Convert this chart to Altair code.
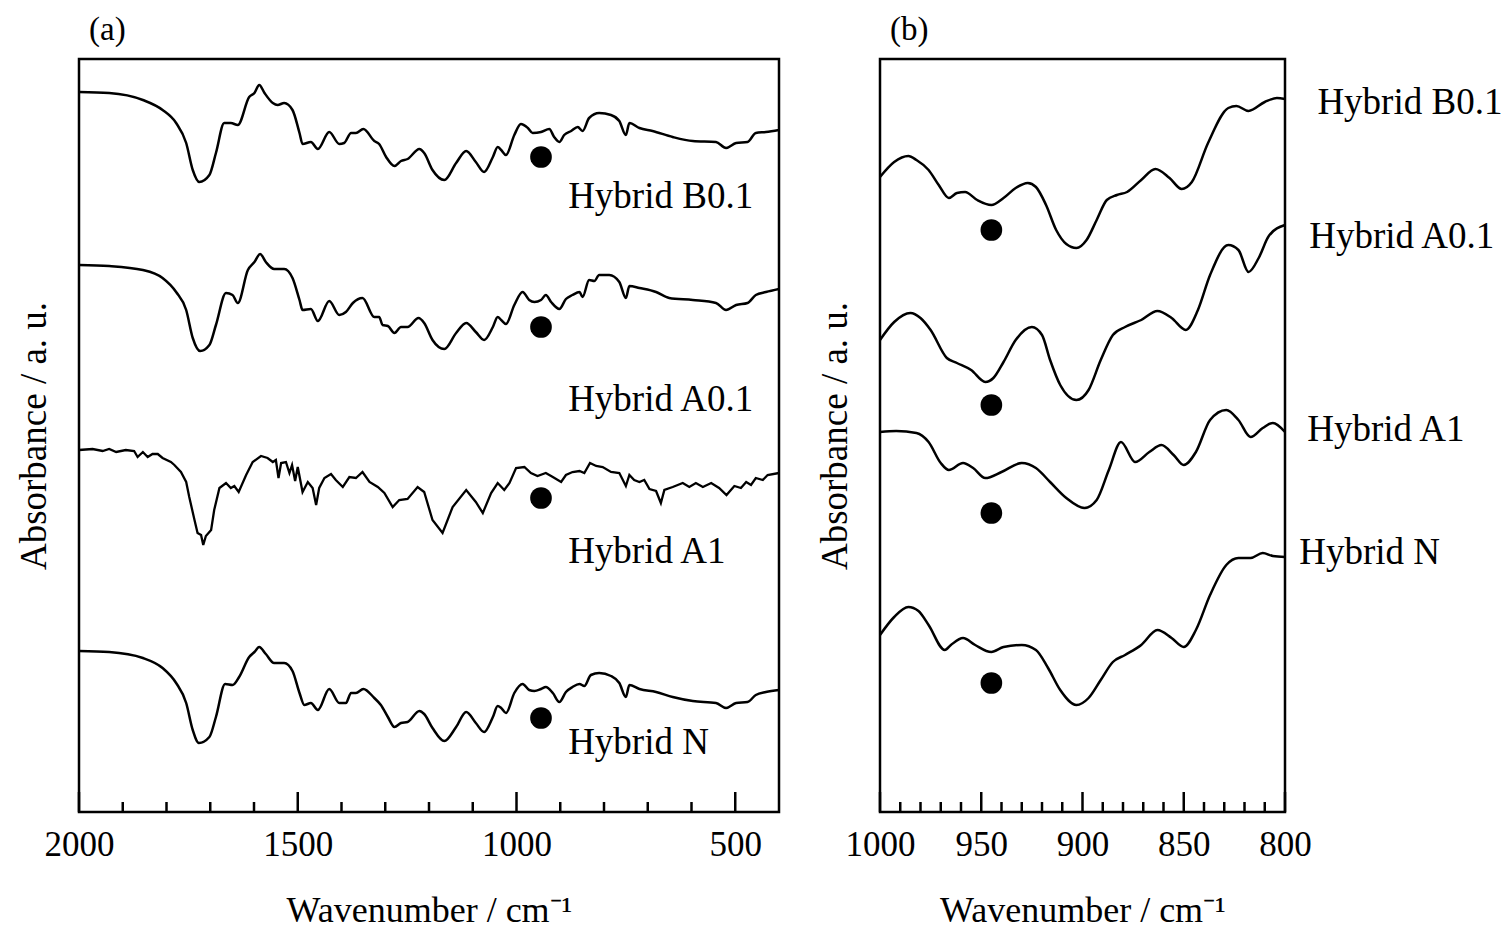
import altair as alt
import pandas as pd

FONT = "Liberation Serif"
Y_MAX = 753  # arbitrary absorbance units (no scale shown)

# ---------------- Panel (a): 2000-400 cm-1 ----------------
a_b01_wn = [2000,1931,1854,1809,1778,1755,1740,1725,1702,1687,
            1668,1653,1637,1611,1599,1588,1576,1557,1546,1531,
            1512,1496,1489,1470,1454,1428,1405,1394,1378,1367,
            1350,1325,1314,1298,1279,1264,1249,1222,1211,1192,
            1165,1138,1115,1093,1074,1054,1043,1035,1024,1005,
            990,974,963,944,925,914,902,891,875,860,
            849,834,811,784,765,750,742,719,689,643,
            597,544,521,498,472,453,430,400]
a_b01_au = [720,719,712,702,689,669,642,630,637,659,
            689,689,687,715,719,727,719,709,707,709,
            702,679,668,670,663,680,668,669,679,679,
            683,671,668,655,646,651,653,663,659,642,
            632,649,661,650,640,655,665,662,657,677,
            688,684,679,680,683,675,670,677,681,685,
            681,694,699,697,691,677,689,684,681,675,
            671,670,664,669,670,679,680,682]

a_a01_wn = [2000,1931,1854,1809,1778,1755,1740,1723,1702,1687,
            1664,1649,1637,1614,1599,1586,1573,1554,1531,1512,
            1496,1489,1470,1454,1428,1405,1390,1374,1352,1325,
            1314,1306,1294,1279,1264,1249,1224,1211,1192,1165,
            1138,1115,1093,1074,1054,1043,1035,1024,1005,986,
            971,959,944,933,921,902,887,872,856,849,
            834,822,811,788,765,750,742,719,681,651,
            597,544,521,498,472,453,430,400]
a_a01_au = [547,546,542,534,520,502,474,461,467,487,
            519,517,509,542,550,558,550,543,543,534,
            512,502,503,491,511,497,500,509,514,495,
            495,487,486,479,485,485,494,489,472,463,
            479,489,480,472,485,495,492,488,507,520,
            512,510,512,517,510,503,513,517,520,515,
            532,531,537,537,530,514,526,524,520,514,
            512,509,502,507,509,517,520,523]

a_a1_wn = [2000,1969,1946,1931,1915,1893,1874,1866,1854,1843,
           1832,1820,1809,1790,1782,1767,1755,1748,1736,1729,
           1721,1716,1710,1698,1691,1679,1664,1653,1645,1635,
           1618,1603,1584,1569,1557,1550,1544,1538,1527,1519,
           1513,1506,1500,1489,1477,1466,1458,1451,1439,1424,
           1413,1397,1382,1367,1352,1336,1317,1302,1283,1268,
           1249,1226,1211,1192,1169,1146,1115,1093,1077,1058,
           1043,1028,1016,1001,982,967,952,933,917,898,
           887,872,856,845,832,818,803,784,765,750,
           742,731,719,708,696,681,670,662,643,620,
           605,590,574,555,537,520,502,487,475,464,
           453,437,426,400]
a_a1_au = [362,363,361,363,360,362,361,355,360,355,
           358,358,354,350,347,340,330,315,292,279,
           277,267,276,282,302,324,329,324,326,320,
           337,350,356,354,350,352,334,349,350,339,
           347,331,345,320,330,324,307,324,334,338,
           332,325,335,334,340,330,325,319,305,312,
           313,325,320,292,279,305,322,310,299,319,
           329,322,329,344,345,339,336,339,335,330,
           337,340,341,339,349,346,345,340,339,326,
           337,332,330,332,323,321,309,322,325,329,
           325,329,325,329,324,317,326,324,330,327,
           334,332,337,339]

a_n_wn = [2000,1931,1854,1809,1778,1755,1740,1726,1702,1687,
          1666,1649,1634,1611,1599,1588,1573,1554,1531,1512,
          1496,1485,1470,1454,1428,1405,1390,1378,1367,1350,
          1325,1310,1294,1279,1264,1249,1222,1211,1192,1165,
          1138,1115,1093,1074,1054,1043,1035,1024,1005,986,
          971,959,944,933,917,902,887,872,856,845,
          830,811,784,765,750,742,719,681,643,597,
          544,521,498,472,453,430,400]
a_n_au = [161,160,154,144,129,109,82,69,75,95,
          128,127,135,155,160,165,158,149,149,141,
          119,107,109,102,123,109,109,119,119,123,
          114,107,95,85,89,90,101,98,84,71,
          85,100,89,80,95,106,104,99,119,128,
          122,121,123,125,119,110,120,125,128,126,
          137,139,136,129,115,127,123,120,115,111,
          109,104,109,110,117,120,122]

a_dot_wn = [944, 944, 944, 944]
a_dot_au = [655, 485, 314, 94]
a_lab_text = ["Hybrid B0.1", "Hybrid A0.1", "Hybrid A1", "Hybrid N"]
a_lab_wn = [882, 882, 882, 882]
a_lab_au = [615, 412, 260, 69]
a_major = [2000, 1500, 1000, 500]
a_minor = [1900, 1800, 1700, 1600, 1400, 1300, 1200, 1100, 900, 800, 700, 600]

# ---------------- Panel (b): 1000-800 cm-1 ----------------
b_b01_wn = [1000,993,986,982,976,971,966,962,958,952,
            945,939,933,927,923,918,913,908,903,898,
            893,888,883,878,871,864,857,851,846,838,
            828,824,818,810,804,800]
b_b01_au = [635,650,656,652,642,627,614,619,620,612,
            607,614,624,629,625,607,582,568,564,572,
            592,612,617,620,632,643,634,623,630,669,
            704,706,701,710,714,713]

b_a01_wn = [1000,993,985,980,975,967,962,955,948,944,
            939,933,925,920,916,911,903,897,891,885,
            879,871,863,856,849,843,837,828,823,818,
            813,808,800]
b_a01_au = [472,490,499,494,482,454,449,442,430,434,
            450,472,485,477,452,427,412,422,452,477,
            485,492,501,494,482,502,537,567,562,540,
            554,576,587]

b_a1_wn = [1000,992,982,976,970,966,959,954,948,940,
           930,923,916,908,899,893,887,881,874,867,
           861,855,850,844,837,829,823,817,811,806,
           800]
b_a1_au = [380,381,379,370,349,342,349,344,334,340,
           349,344,330,314,304,312,342,370,350,360,
           367,357,347,360,392,402,392,375,384,389,
           380]

b_n_wn = [1000,993,986,981,976,968,965,959,953,945,
          939,930,923,917,911,903,897,891,885,879,
          871,863,856,850,844,837,829,823,817,811,
          806,800]
b_n_au = [177,195,205,201,187,162,167,174,167,160,
          165,167,162,144,122,107,114,132,150,157,
          167,182,174,165,182,217,247,254,254,259,
          256,255]

b_dot_wn = [945, 945, 945, 945]
b_dot_au = [582, 407, 299, 129]
b_lab_text = ["Hybrid B0.1", "Hybrid A0.1", "Hybrid A1", "Hybrid N"]
b_lab_wn = [784, 788, 789, 793]
b_lab_au = [709, 575, 382, 259]
b_major = [1000, 950, 900, 850, 800]
b_minor = [990, 980, 970, 960, 940, 930, 920, 910, 890, 880, 870, 860,
           840, 830, 820, 810]


def series(wn, au, name):
    return pd.DataFrame({"wn": wn, "au": au, "series": name})


def panel(smooth, rough, dots, labels, domain, major, minor, width, height, title):
    xs = alt.Scale(domain=domain, nice=False, zero=False)
    ys = alt.Scale(domain=[0, Y_MAX], nice=False, zero=False)
    xax = alt.Axis(values=major, title="Wavenumber / cm⁻¹", format="d",
                   ticks=False, tickSize=0, domain=False, grid=False,
                   labelFlush=False, labelOverlap=False,
                   labelFontSize=35, titleFontSize=36,
                   labelPadding=15, titlePadding=31)
    yax = alt.Axis(title="Absorbance / a. u.", labels=False, ticks=False,
                   domain=False, grid=False, titlePadding=26, titleFontSize=37)
    X = alt.X("wn:Q", scale=xs, axis=xax)
    Y = alt.Y("au:Q", scale=ys, axis=yax)

    layers = []
    layers.append(alt.Chart(smooth).mark_line(color="black", strokeWidth=2.5,
                                              interpolate="monotone")
                  .encode(x=X, y=Y, detail="series:N"))
    if rough is not None:
        layers.append(alt.Chart(rough).mark_line(color="black", strokeWidth=2.3,
                                                 interpolate="linear")
                      .encode(x=X, y=Y, detail="series:N"))
    layers.append(alt.Chart(dots).mark_circle(size=470, color="black", opacity=1)
                  .encode(x=X, y=Y))
    layers.append(alt.Chart(labels).mark_text(align="left", baseline="middle",
                                               font=FONT, fontSize=37, color="black")
                  .encode(x=X, y=Y, text="label:N"))
    layers.append(alt.Chart(pd.DataFrame({"wn": major})).mark_rule(color="black", strokeWidth=2.5)
                  .encode(x=X, y=alt.value(height), y2=alt.value(height - 20)))
    layers.append(alt.Chart(pd.DataFrame({"wn": minor})).mark_rule(color="black", strokeWidth=2.5)
                  .encode(x=X, y=alt.value(height), y2=alt.value(height - 10)))
    return alt.layer(*layers).properties(
        width=width, height=height,
        title=alt.TitleParams(title, anchor="start", frame="group", dx=10,
                              fontSize=33, font=FONT, fontWeight="normal",
                              color="black", offset=12))


a_smooth = pd.concat([series(a_b01_wn, a_b01_au, "Hybrid B0.1"),
                      series(a_a01_wn, a_a01_au, "Hybrid A0.1"),
                      series(a_n_wn, a_n_au, "Hybrid N")])
a_rough = series(a_a1_wn, a_a1_au, "Hybrid A1")
a_dots = pd.DataFrame({"wn": a_dot_wn, "au": a_dot_au})
a_labels = pd.DataFrame({"wn": a_lab_wn, "au": a_lab_au, "label": a_lab_text})

b_smooth = pd.concat([series(b_b01_wn, b_b01_au, "Hybrid B0.1"),
                      series(b_a01_wn, b_a01_au, "Hybrid A0.1"),
                      series(b_a1_wn, b_a1_au, "Hybrid A1"),
                      series(b_n_wn, b_n_au, "Hybrid N")])
b_dots = pd.DataFrame({"wn": b_dot_wn, "au": b_dot_au})
b_labels = pd.DataFrame({"wn": b_lab_wn, "au": b_lab_au, "label": b_lab_text})

H = 753
pa = panel(a_smooth, a_rough, a_dots, a_labels, [2000, 400], a_major, a_minor, 700, H, "(a)")
pb = panel(b_smooth, None, b_dots, b_labels, [1000, 800], b_major, b_minor, 405, H, "(b)")

chart = (alt.hconcat(pa, pb, spacing=101, bounds="flush")
         .properties(padding={"left": 13, "top": 12, "right": 0, "bottom": 0},
                     autosize=alt.AutoSizeParams(type="pad"),
                     background="white")
         .configure_view(stroke="black", strokeWidth=2.5)
         .configure_axis(labelFont=FONT, labelColor="black",
                         titleFont=FONT, titleFontWeight="normal",
                         titleColor="black"))

chart.save("out.html", embed_options={"renderer": "svg", "actions": False})
